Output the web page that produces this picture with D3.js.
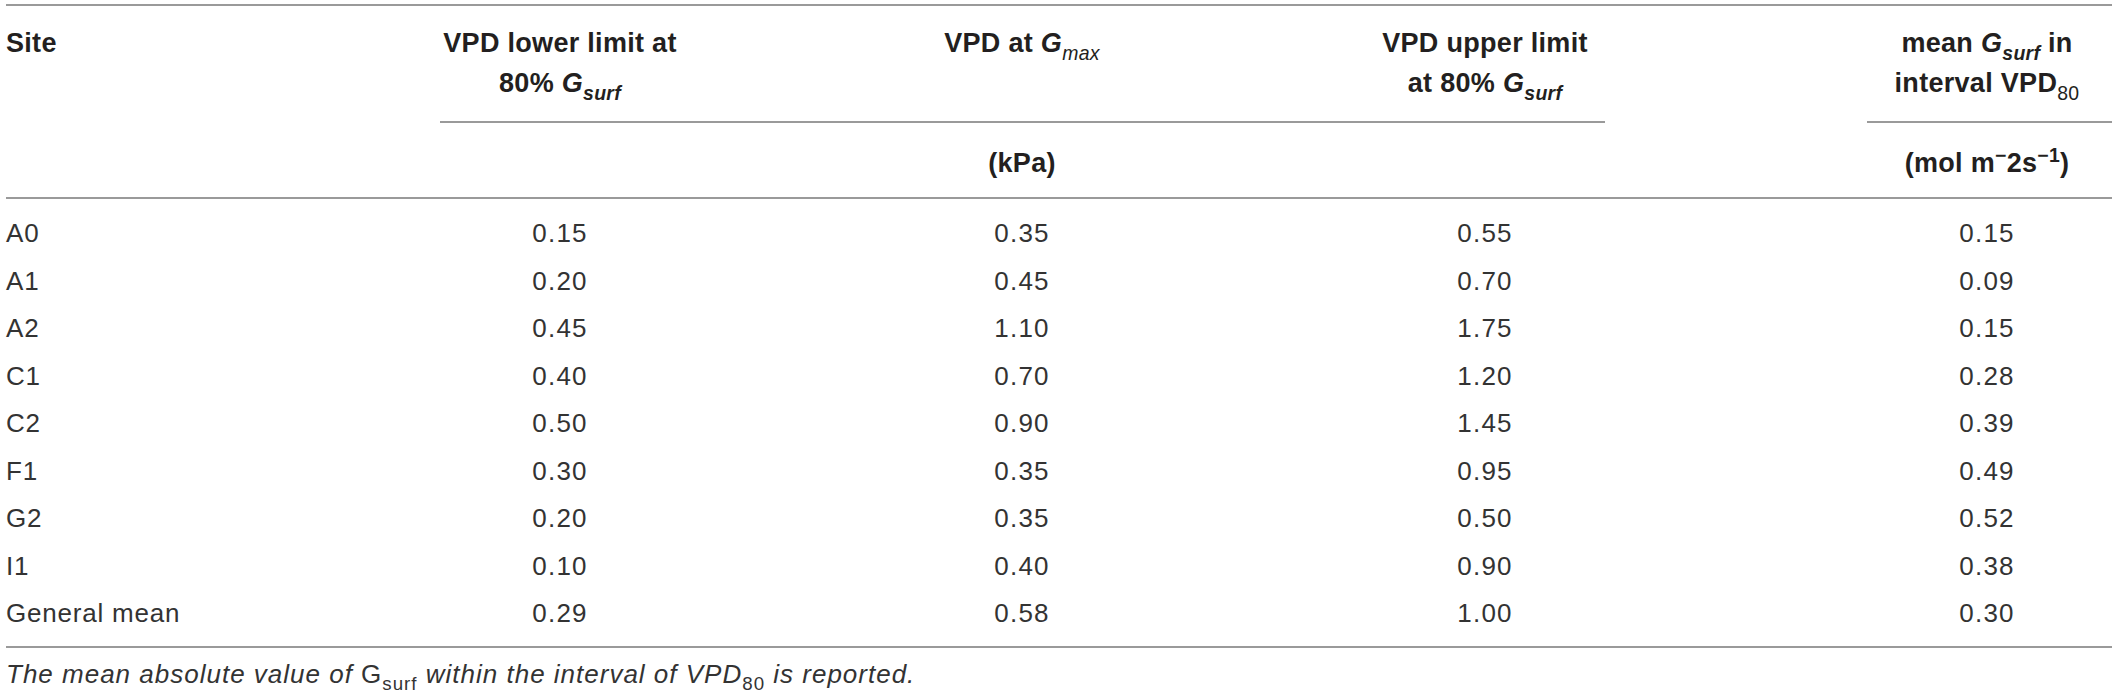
<!DOCTYPE html>
<html>
<head>
<meta charset="utf-8">
<script src="https://cdn.jsdelivr.net/npm/d3@7.9.0/dist/d3.min.js"></script>
<style>
  html, body { margin: 0; padding: 0; background: #fff; }
  svg { display: block; font-family: "Liberation Sans", Arial, Helvetica, sans-serif; }
</style>
</head>
<body>
<svg id="table" width="2118" height="696"></svg>
<script>
// table values
const sites = ['A0', 'A1', 'A2', 'C1', 'C2', 'F1', 'G2', 'I1', 'General mean'];
const vpdLower = ['0.15', '0.20', '0.45', '0.40', '0.50', '0.30', '0.20', '0.10', '0.29'];
const vpdAtGmax = ['0.35', '0.45', '1.10', '0.70', '0.90', '0.35', '0.35', '0.40', '0.58'];
const vpdUpper = ['0.55', '0.70', '1.75', '1.20', '1.45', '0.95', '0.50', '0.90', '1.00'];
const meanGsurf = ['0.15', '0.09', '0.15', '0.28', '0.39', '0.49', '0.52', '0.38', '0.30'];

const columns = ['site', 'lower', 'gmax', 'upper', 'mean'];
const values = { lower: vpdLower, gmax: vpdAtGmax, upper: vpdUpper, mean: meanGsurf };

// header pieces: [text, style] where style may hold i (italic), sub, sup, w (weight)
const headers = {
  site: [[['Site']]],
  lower: [[['VPD lower limit at']], [['80% '], ['G', { i: 1 }], ['surf', { i: 1, sub: 1 }]]],
  gmax: [[['VPD at '], ['G', { i: 1 }], ['max', { i: 1, sub: 1, w: 'normal' }]]],
  upper: [[['VPD upper limit']], [['at 80% '], ['G', { i: 1 }], ['surf', { i: 1, sub: 1 }]]],
  mean: [[['mean '], ['G', { i: 1 }], ['surf', { i: 1, sub: 1 }], [' in']],
         [['interval VPD'], ['80', { sub: 1, w: 'normal' }]]]
};
const units = {
  gmax: [['(kPa)']],
  mean: [['(mol m'], ['\u2212', { sup: 1 }], ['2s'], ['\u22121', { sup: 1 }], [')']]
};
const footnote = [['The mean absolute value of '], ['G', { i: 0 }], ['surf', { sub: 1, i: 0 }],
  [' within the interval of '], ['VPD'], ['80', { sub: 1, i: 0 }], [' is reported.']];

const svg = d3.select('#table');

const x = d3.scaleOrdinal().domain(columns).range([6, 560, 1022, 1485, 1987]);
const anchor = (c) => (c === 'site' ? 'start' : 'middle');
const y = d3.scaleLinear().domain([0, sites.length - 1]).range([242, 622]);

const ruleColor = '#9a9a9a';
function rule(x1, x2, yy) {
  svg.append('line')
    .attr('x1', x1).attr('x2', x2)
    .attr('y1', yy).attr('y2', yy)
    .attr('stroke', ruleColor).attr('stroke-width', 2);
}

// writes a run of styled pieces into a text element, sub/sup shift and reset
function richText(sel, pieces, size) {
  let shift = 0;
  pieces.forEach(([t, s = {}]) => {
    let target = s.sub ? size * 0.28 : s.sup ? -size * 0.38 : 0;
    let ts = sel.append('tspan')
      .attr('dy', target - shift)
      .attr('font-size', s.sub || s.sup ? size * 0.72 : size)
      .text(t);
    if (s.i !== undefined) ts.attr('font-style', s.i ? 'italic' : 'normal');
    if (s.w) ts.attr('font-weight', s.w);
    shift = target;
  });
}

// rules
rule(6, 2112, 5);
rule(440, 1605, 122);
rule(1867, 2112, 122);
rule(6, 2112, 198);
rule(6, 2112, 647);

// header
const headSize = 27;
columns.forEach((c) => {
  headers[c].forEach((line, li) => {
    let t = svg.append('text')
      .attr('x', x(c)).attr('y', 52 + li * 40)
      .attr('text-anchor', anchor(c))
      .attr('font-weight', 'bold')
      .attr('font-size', headSize)
      .attr('letter-spacing', 0.3)
      .attr('fill', '#231f20');
    richText(t, line, headSize);
  });
  if (units[c]) {
    let t = svg.append('text')
      .attr('x', x(c)).attr('y', 172)
      .attr('text-anchor', 'middle')
      .attr('font-weight', 'bold')
      .attr('font-size', headSize)
      .attr('letter-spacing', 0.3)
      .attr('fill', '#231f20');
    richText(t, units[c], headSize);
  }
});

// body rows
const bodySize = 26;
const rows = svg.append('g').selectAll('g')
  .data(sites)
  .join('g')
  .attr('transform', (d, i) => `translate(0,${y(i)})`);

rows.append('text')
  .attr('x', x('site'))
  .attr('font-size', bodySize)
  .attr('letter-spacing', 0.8)
  .attr('fill', '#333')
  .text((d) => d);

['lower', 'gmax', 'upper', 'mean'].forEach((c) => {
  rows.append('text')
    .attr('x', x(c))
    .attr('text-anchor', 'middle')
    .attr('font-size', bodySize)
    .attr('letter-spacing', 1.2)
    .attr('fill', '#333')
    .text((d, i) => values[c][i]);
});

// footnote
const noteSize = 26;
const note = svg.append('text')
  .attr('x', 6).attr('y', 683)
  .attr('font-size', noteSize)
  .attr('font-style', 'italic')
  .attr('letter-spacing', 1)
  .attr('fill', '#333');
richText(note, footnote, noteSize);
</script>
</body>
</html>
